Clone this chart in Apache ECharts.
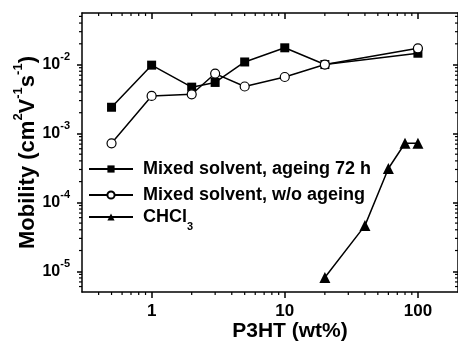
<!DOCTYPE html>
<html>
<head>
<meta charset="utf-8">
<script src="https://cdn.jsdelivr.net/npm/echarts@6/dist/echarts.min.js"></script>
<style>
  html, body { margin: 0; padding: 0; background: #fff; }
  #main { width: 458px; height: 343px; }
</style>
</head>
<body>
<div id="main"></div>
<script>
const font = "'Liberation Sans', Arial, Helvetica, sans-serif";

// data
const seriesNames = ["Mixed solvent, ageing 72 h", "Mixed solvent, w/o ageing", "CHCl3"];
const agedX = [0.5, 1, 2, 3, 5, 10, 20, 100];
const agedY = [2.4e-3, 9.8e-3, 4.7e-3, 5.5e-3, 1.09e-2, 1.75e-2, 1.0e-2, 1.46e-2];
const freshX = [0.5, 1, 2, 3, 5, 10, 20, 100];
const freshY = [7.2e-4, 3.5e-3, 3.7e-3, 7.4e-3, 4.8e-3, 6.6e-3, 1.0e-2, 1.72e-2];
const chclX = [20, 40, 60, 80, 100];
const chclY = [8.1e-6, 4.6e-5, 3.1e-4, 7.2e-4, 7.2e-4];

// axes
const xRange = [0.3, 200];
const yRange = [5e-6, 0.056];
const xTicks = [1, 10, 100];
const yExp = [-5, -4, -3, -2];
const yTicks = yExp.map(e => Math.pow(10, e));

// minor ticks 2..9 in every decade
function minors(range, decades) {
  const out = [];
  decades.forEach(d => {
    for (let k = 2; k <= 9; k++) {
      const v = k * d;
      if (v > range[0] * 1.0001 && v < range[1] * 0.9999) out.push(v);
    }
  });
  return out;
}
const xMinor = minors(xRange, [0.1, 1, 10, 100]);
const yMinor = minors(yRange, [1e-6, 1e-5, 1e-4, 1e-3, 1e-2]);

const pairs = (xs, ys) => xs.map((x, i) => [x, ys[i]]);

const minorTick = (dx, dy) => (params, api) => {
  const p = api.coord([api.value(0), api.value(1)]);
  return {
    type: "line",
    shape: { x1: p[0], y1: p[1], x2: p[0] + dx, y2: p[1] + dy },
    style: { stroke: "#000", lineWidth: 1.2 },
  };
};

const axisLine = { onZero: false, lineStyle: { color: "#000", width: 1.5 } };

// one legend block per row so the row pitch is exact
const legendRow = (name, top) => ({
  data: [name],
  orient: "vertical",
  left: 88,
  top: top,
  padding: 0,
  itemWidth: 44,
  itemHeight: 9,
  selectedMode: false,
  formatter: n => n === "CHCl3" ? "{b|CHCl}{sub|3}" : "{b|" + n + "}",
  textStyle: {
    color: "#000",
    padding: [0, 0, 0, 5],
    rich: {
      b: { fontFamily: font, fontSize: 18, fontWeight: "bold", color: "#000" },
      sub: { fontFamily: font, fontSize: 11, fontWeight: "bold", color: "#000", padding: [20, 0, 0, 0] },
    },
  },
});

const chart = echarts.init(document.getElementById("main"));

const option = {
  animation: false,
  backgroundColor: "#fff",
  grid: { left: 82, right: 0, top: 13, bottom: 51, outerBoundsMode: "none", containLabel: false },
  legend: [
    legendRow(seriesNames[0], 160),
    legendRow(seriesNames[1], 186),
    legendRow(seriesNames[2], 208),
  ],
  xAxis: [
    {
      type: "log",
      logBase: 10,
      min: xRange[0],
      max: xRange[1],
      position: "bottom",
      axisLine: axisLine,
      axisTick: { customValues: xTicks, length: 6, lineStyle: { color: "#000", width: 1.5 } },
      axisLabel: {
        customValues: xTicks,
        margin: 11,
        color: "#000",
        fontFamily: font,
        fontSize: 17,
        fontWeight: "bold",
        formatter: v => String(v),
      },
      splitLine: { show: false },
      name: "P3HT (wt%)",
      nameLocation: "middle",
      nameGap: 29,
      nameMoveOverlap: false,
      nameTextStyle: {
        color: "#000",
        fontFamily: font,
        fontSize: 21,
        fontWeight: "bold",
        padding: [0, 0, 0, 40],
      },
    },
    {
      type: "log",
      logBase: 10,
      min: xRange[0],
      max: xRange[1],
      position: "top",
      axisLine: axisLine,
      axisTick: { customValues: xTicks, inside: true, length: 6, lineStyle: { color: "#000", width: 1.5 } },
      axisLabel: { show: false },
      splitLine: { show: false },
    },
  ],
  yAxis: [
    {
      type: "log",
      logBase: 10,
      min: yRange[0],
      max: yRange[1],
      position: "left",
      axisLine: axisLine,
      axisTick: { customValues: yTicks, length: 5, lineStyle: { color: "#000", width: 1.5 } },
      axisLabel: {
        customValues: yTicks,
        margin: 12,
        formatter: v => "{b|10}{s|" + Math.round(Math.log10(v)) + "}",
        rich: {
          b: { fontFamily: font, fontSize: 16, fontWeight: "bold", lineHeight: 26, color: "#000" },
          s: { fontFamily: font, fontSize: 11, fontWeight: "bold", lineHeight: 11, verticalAlign: "top", color: "#000" },
        },
      },
      splitLine: { show: false },
      name: "{b|Mobility (cm}{s|2}{b|V}{s|-1}{b|s}{s|-1}{b|)}",
      nameLocation: "middle",
      nameGap: 38,
      nameMoveOverlap: false,
      nameTextStyle: {
        rich: {
          b: { fontFamily: font, fontSize: 22, fontWeight: "bold", lineHeight: 32, color: "#000" },
          s: { fontFamily: font, fontSize: 13, fontWeight: "bold", lineHeight: 13, verticalAlign: "top", color: "#000" },
        },
      },
    },
    {
      type: "log",
      logBase: 10,
      min: yRange[0],
      max: yRange[1],
      position: "right",
      axisLine: axisLine,
      axisTick: { customValues: yTicks, inside: true, length: 5, lineStyle: { color: "#000", width: 1.5 } },
      axisLabel: { show: false },
      splitLine: { show: false },
    },
  ],
  series: [
    {
      name: seriesNames[0],
      type: "line",
      data: pairs(agedX, agedY),
      symbol: "rect",
      symbolSize: 9,
      showAllSymbol: true,
      itemStyle: { color: "#000" },
      lineStyle: { color: "#000", width: 1.5 },
      z: 3,
    },
    {
      name: seriesNames[1],
      type: "line",
      data: pairs(freshX, freshY),
      symbol: "circle",
      symbolSize: 9,
      showAllSymbol: true,
      itemStyle: { color: "#fff", borderColor: "#000", borderWidth: 1.2 },
      lineStyle: { color: "#000", width: 1.5 },
      z: 4,
    },
    {
      name: seriesNames[2],
      type: "line",
      data: pairs(chclX, chclY),
      symbol: "triangle",
      symbolSize: 11,
      showAllSymbol: true,
      itemStyle: { color: "#000" },
      lineStyle: { color: "#000", width: 1.5 },
      z: 3,
    },
    // minor ticks on all four sides
    {
      type: "custom", silent: true, clip: false, z: 5,
      renderItem: minorTick(0, 3),
      data: xMinor.map(v => [v, yRange[0]]),
    },
    {
      type: "custom", silent: true, clip: false, z: 5,
      renderItem: minorTick(0, 3),
      data: xMinor.map(v => [v, yRange[1]]),
    },
    {
      type: "custom", silent: true, clip: false, z: 5,
      renderItem: minorTick(-3, 0),
      data: yMinor.map(v => [xRange[0], v]),
    },
    {
      type: "custom", silent: true, clip: false, z: 5,
      renderItem: minorTick(-3, 0),
      data: yMinor.map(v => [xRange[1], v]),
    },
  ],
};

chart.setOption(option);
</script>
</body>
</html>
